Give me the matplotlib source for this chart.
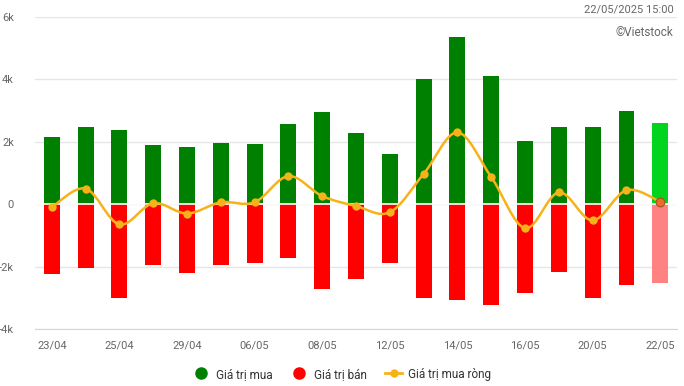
import numpy as np
import matplotlib
matplotlib.use("Agg")
import matplotlib.pyplot as plt
from matplotlib.path import Path
from matplotlib.patches import PathPatch
from matplotlib.lines import Line2D

plt.rcParams['font.family'] = ['Roboto', 'DejaVu Sans']

dates = ["23/04", "24/04", "25/04", "28/04", "29/04", "05/05", "06/05", "07/05",
         "08/05", "09/05", "12/05", "13/05", "14/05", "15/05", "16/05", "19/05",
         "20/05", "21/05", "22/05"]
buy = [2160, 2480, 2370, 1900, 1840, 1970, 1940, 2580, 2970, 2290, 1610, 4000,
       5350, 4100, 2030, 2480, 2480, 3000, 2610]
sell = [-2230, -2030, -3000, -1940, -2190, -1940, -1900, -1710, -2710, -2390, -1900,
        -3000, -3060, -3230, -2840, -2160, -3000, -2580, -2520]
net = [-100, 500, -650, 30, -300, 60, 60, 900, 260, -60, -260, 970, 2300, 870,
       -770, 380, -520, 450, 80]
yticks = [-4000, -2000, 0, 2000, 4000, 6000]
ytick_labels = ["-4k", "-2k", "0", "2k", "4k", "6k"]

GREEN, RED, ORANGE = "#008000", "#ff0000", "#f7b21a"

fig = plt.figure(figsize=(6.84, 3.86), dpi=100)
ax = fig.add_axes([0.051, 0.1477, 0.939, 0.8083])

x = np.arange(len(dates))
buy_colors = [GREEN] * (len(x) - 1) + ["#00d41e"]
sell_colors = [RED] * (len(x) - 1) + ["#ff8282"]
ax.bar(x, buy, width=0.47, color=buy_colors, zorder=2)
ax.bar(x, sell, width=0.47, color=sell_colors, zorder=2)
ax.axhline(0, color="white", lw=1.2, zorder=3)

# smooth spline through net values (Catmull-Rom as cubic bezier)
pts = np.column_stack([x, net]).astype(float)
verts = [pts[0]]
codes = [Path.MOVETO]
for i in range(len(pts) - 1):
    p0 = pts[max(i - 1, 0)]
    p1 = pts[i]
    p2 = pts[i + 1]
    p3 = pts[min(i + 2, len(pts) - 1)]
    c1 = p1 + (p2 - p0) / 6.0
    c2 = p2 - (p3 - p1) / 6.0
    verts += [c1, c2, p2]
    codes += [Path.CURVE4] * 3
ax.add_patch(PathPatch(Path(verts, codes), fill=False, edgecolor=ORANGE, lw=1.8, zorder=4))
ax.scatter(x[:-1], net[:-1], s=36, color=ORANGE, zorder=5, linewidths=0)
ax.scatter(x[-1:], net[-1:], s=40, color="#f26b1d", edgecolor="#a0522d", linewidths=0.8, zorder=5)

ax.set_xlim(-0.5, 18.5)
ax.set_ylim(-4000, 6000)
ax.set_yticks(yticks)
ax.set_yticklabels(ytick_labels)
ax.set_xticks(x[::2])
ax.set_xticklabels(dates[::2])
ax.grid(axis="y", color="#e6e6e6", lw=1, zorder=0)
ax.set_axisbelow(True)
for s in ["top", "right", "left"]:
    ax.spines[s].set_visible(False)
ax.spines["bottom"].set_color("#ccd6eb")
ax.spines["bottom"].set_position(("data", -4000))
ax.tick_params(axis="both", length=0, labelsize=8, colors="#666666")
ax.tick_params(axis="y", pad=15)
ax.tick_params(axis="x", pad=8)

fig.text(0.985, 0.975, "22/05/2025 15:00", ha="right", va="center", fontsize=8, color="#666666")
fig.text(0.985, 0.915, "©Vietstock", ha="right", va="center", fontsize=8.5, color="#666666")

handles = [
    Line2D([], [], marker="o", ls="none", color=GREEN, markersize=8),
    Line2D([], [], marker="o", ls="none", color=RED, markersize=8),
    Line2D([], [], marker="o", color=ORANGE, lw=2, markersize=5),
]
fig.legend(handles, ["Giá trị mua", "Giá trị bán", "Giá trị mua ròng"], loc="center",
           bbox_to_anchor=(0.5, 0.031), ncol=3, frameon=False, fontsize=8.5,
           handlelength=1.4, columnspacing=1.6, handletextpad=0.5, labelcolor="#333333")

fig.savefig("out.png", dpi=100)
